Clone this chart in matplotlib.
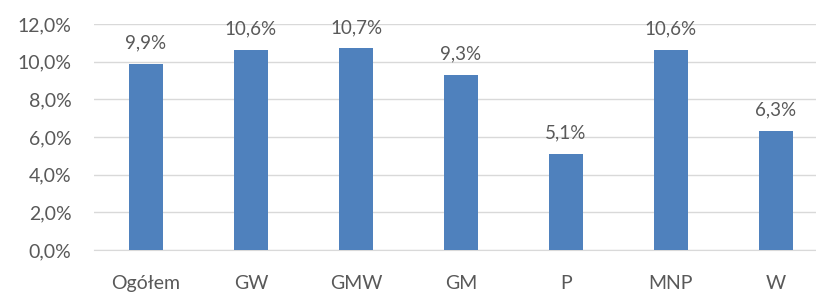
import matplotlib
matplotlib.use('Agg')
import matplotlib.pyplot as plt
from matplotlib.ticker import FuncFormatter

# ── Data ─────────────────────────────────────────────────────────────────────
categories = ['Ogółem', 'GW', 'GMW', 'GM', 'P', 'MNP', 'W']
values = [9.9, 10.6, 10.7, 9.3, 5.1, 10.6, 6.3]
yticks = [0, 2, 4, 6, 8, 10, 12]

BAR_COLOR = '#4F81BD'
TEXT_COLOR = '#595959'
GRID_COLOR = '#D9D9D9'

plt.rcParams['font.family'] = ['Lato', 'DejaVu Sans']

fig = plt.figure(figsize=(8.16, 2.93), dpi=100)
# axis area runs a little past the right edge, as in the reference
ax = fig.add_axes([93.5 / 816, 43 / 293, 735 / 816, 226 / 293])

x = range(len(categories))
ax.bar(x, values, width=0.315, color=BAR_COLOR, zorder=3)

for xi, v in zip(x, values):
    ax.annotate(f'{v:.1f}%'.replace('.', ','), (xi, v), xytext=(0, 9),
                textcoords='offset points', ha='center', va='bottom',
                fontsize=13.5, color=TEXT_COLOR)

ax.set_xlim(-0.5, len(categories) - 0.5)
ax.set_ylim(0, 12)
ax.set_yticks(yticks)
ax.yaxis.set_major_formatter(FuncFormatter(lambda v, p: f'{v:.1f}%'.replace('.', ',')))
ax.set_xticks(list(x))
ax.set_xticklabels(categories)
ax.tick_params(axis='both', length=0, labelsize=14, colors=TEXT_COLOR)
ax.tick_params(axis='x', pad=18)
ax.tick_params(axis='y', pad=16)
ax.grid(axis='y', color=GRID_COLOR, lw=1, zorder=0)
for s in ['top', 'right', 'left']:
    ax.spines[s].set_visible(False)
ax.spines['bottom'].set_color(GRID_COLOR)

fig.savefig('out.png', dpi=100)
